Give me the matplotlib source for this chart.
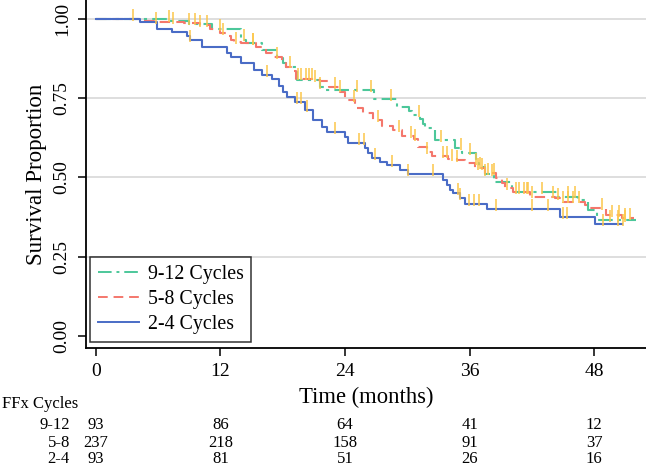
import numpy as np
import matplotlib
matplotlib.use("Agg")
import matplotlib.pyplot as plt
from matplotlib.transforms import blended_transform_factory

plt.rcParams['font.family'] = ['Liberation Serif', 'DejaVu Serif']

# ---- data: Kaplan-Meier step points (time in months, survival after step) ----
g912_t = [6.8, 9.0, 11.2, 14.0, 14.5, 16.0, 17.4, 18.0, 18.3, 19.4, 21.6, 22.0,
          26.8, 29.0, 30.2, 30.5, 31.2, 31.5, 31.7, 32.7, 34.6, 35.3, 36.6, 36.9,
          37.5, 38.4, 40.1, 44.4, 46.4, 47.4, 48.3]
g912_s = [0.995, 0.985, 0.967, 0.935, 0.925, 0.902, 0.877, 0.86, 0.85, 0.808,
          0.786, 0.776, 0.748, 0.723, 0.71, 0.697, 0.685, 0.67, 0.655, 0.618,
          0.594, 0.576, 0.545, 0.534, 0.51, 0.487, 0.453, 0.44, 0.429, 0.397, 0.366]
g912_end = 52.0
g912_cens = [3.6, 7.0, 12.0, 14.3, 15.1, 21.6, 23.5, 25.2, 26.5, 28.4, 31.1, 33.2,
             35.2, 36.0, 36.6, 37.0, 37.5, 38.2, 40.5, 41.5, 43.0, 45.5, 46.2,
             49.5, 50.3, 51.0]

g58_t = [4.2, 5.6, 8.5, 10.0, 11.0, 12.0, 12.5, 13.0, 13.3, 14.0, 15.4, 16.4, 17.0,
         17.9, 18.3, 18.8, 19.3, 21.0, 21.6, 22.5, 23.5, 24.0, 25.0, 25.7, 26.7,
         27.6, 28.6, 29.5, 30.6, 31.0, 31.9, 32.4, 33.9, 34.8, 35.6, 36.5, 37.5,
         38.5, 39.1, 39.4, 40.2, 41.8, 44.2, 45.0, 47.1, 47.4, 49.1, 50.7]
g58_s = [0.995, 0.99, 0.986, 0.981, 0.97, 0.955, 0.946, 0.935, 0.928, 0.923, 0.913,
         0.892, 0.881, 0.86, 0.85, 0.835, 0.812, 0.808, 0.803, 0.786, 0.77, 0.744,
         0.718, 0.702, 0.681, 0.662, 0.65, 0.631, 0.62, 0.597, 0.581, 0.568, 0.559,
         0.555, 0.545, 0.529, 0.513, 0.497, 0.482, 0.466, 0.455, 0.44, 0.435, 0.424,
         0.413, 0.403, 0.382, 0.371]
g58_end = 51.8
g58_cens = [5.8, 7.4, 9.0, 9.5, 10.0, 10.7, 12.2, 13.5, 15.1, 17.4, 18.7, 19.5, 19.8,
            20.2, 20.5, 20.8, 21.1, 23.0, 24.9, 27.2, 29.2, 30.4, 30.7, 31.9, 33.4,
            33.8, 34.3, 34.8, 36.8, 37.2, 37.8, 38.4, 39.6, 40.8, 41.2, 41.6, 42.0,
            44.0, 44.5, 45.0, 45.5, 46.0, 46.5, 48.8, 49.7, 50.4, 51.0, 51.5]

g24_t = [4.2, 5.9, 7.3, 8.8, 9.1, 10.2, 12.6, 13.0, 14.0, 15.2, 16.0, 17.0, 17.6,
         18.0, 18.4, 19.2, 20.1, 20.9, 21.8, 22.3, 24.0, 24.3, 25.9, 26.2, 26.6,
         27.4, 28.0, 29.3, 30.1, 33.4, 33.8, 34.1, 34.4, 35.1, 35.6, 37.7, 44.7, 48.1]
g24_s = [0.99, 0.967, 0.958, 0.945, 0.934, 0.913, 0.892, 0.879, 0.86, 0.839, 0.823,
         0.811, 0.79, 0.77, 0.754, 0.739, 0.713, 0.681, 0.66, 0.644, 0.629, 0.608,
         0.592, 0.577, 0.561, 0.55, 0.539, 0.524, 0.511, 0.492, 0.476, 0.46, 0.45,
         0.434, 0.416, 0.40, 0.376, 0.353]
g24_end = 50.7
g24_cens = [9.1, 16.5, 19.4, 19.8, 20.3, 23.0, 25.3, 25.8, 26.9, 28.5, 30.1, 32.5,
            34.9, 35.1, 35.9, 36.4, 36.9, 38.5, 42.0, 43.6, 45.0, 45.4, 48.9, 50.3, 50.8]

labels = ['9-12 Cycles', '5-8 Cycles', '2-4 Cycles']
risk_groups = ['9-12', '5-8', '2-4']
risk_times = [0, 12, 24, 36, 48]
risk_912 = [93, 86, 64, 41, 12]
risk_58 = [237, 218, 158, 91, 37]
risk_24 = [93, 81, 51, 26, 16]

x_ticks = [0, 12, 24, 36, 48]
y_ticks = [0.0, 0.25, 0.5, 0.75, 1.0]

# ---- styles ----
c_green = '#4cc79a'
c_red = '#f4776c'
c_blue = '#4a6cc6'
c_cens = '#fcc64a'

fig = plt.figure(figsize=(6.46, 4.71), dpi=100)
ax = fig.add_axes([86/646, 1-348/471, 560/646, 348/471])

for y in [0.25, 0.5, 0.75, 1.0]:
    ax.axhline(y, color='#d4d4d4', lw=1.1, zorder=0)


def curve(t, s, end):
    tt = np.concatenate([[0.0], t, [end]])
    ss = np.concatenate([[1.0], s, [s[-1]]])
    return tt, ss


def surv_at(t, s, times):
    t = np.asarray(t); s = np.asarray(s)
    out = []
    for x in times:
        idx = np.searchsorted(t, x, side='right') - 1
        out.append(1.0 if idx < 0 else s[idx])
    return np.array(out)


series = [
    (g912_t, g912_s, g912_end, g912_cens, c_green, (0, (7, 2.5, 1.5, 2.5))),
    (g58_t, g58_s, g58_end, g58_cens, c_red, (0, (5, 3))),
    (g24_t, g24_s, g24_end, g24_cens, c_blue, '-'),
]
for (t, s, end, cens, col, ls), lab in zip(series, labels):
    tt, ss = curve(t, s, end)
    ax.step(tt, ss, where='post', color=col, lw=1.5, ls=ls, zorder=3)
for (t, s, end, cens, col, ls) in series:
    cy = surv_at(t, s, cens)
    ax.plot(cens, cy + 0.013, ls='none', marker='|', ms=8, mew=1.1,
            color=c_cens, zorder=4)

# legend proxies
handles = []
for (t, s, end, cens, col, ls), lab in zip(series, labels):
    h, = ax.plot([], [], color=col, lw=1.4, ls=ls, label=lab)
    handles.append(h)

ax.set_xlim(-0.96, 53.0)
ax.set_ylim(-0.038, 1.06)
ax.set_xticks(x_ticks)
ax.set_xticklabels([str(v) for v in x_ticks])
ax.set_yticks(y_ticks)
ax.set_yticklabels(['%.2f' % v for v in y_ticks], rotation=90, va='center')
ax.tick_params(axis='both', direction='out', length=6, width=1.1, labelsize=14,
               pad=5)
for sp in ['top', 'right']:
    ax.spines[sp].set_visible(False)
for sp in ['left', 'bottom']:
    ax.spines[sp].set_linewidth(1.3)
ax.set_xlabel('Time (months)', fontsize=16.3, labelpad=5)
ax.set_ylabel('Survival Proportion', fontsize=16.5, labelpad=5)

leg = ax.legend(handles=handles, loc='lower left', bbox_to_anchor=(0.007, 0.017),
                borderaxespad=0, fontsize=14.3, frameon=True, fancybox=False,
                handlelength=2.05, handletextpad=0.45, labelspacing=0.3,
                borderpad=0.4)
leg.get_frame().set_edgecolor('black')
leg.get_frame().set_linewidth(1.1)

# ---- risk table ----
trans = blended_transform_factory(ax.transData, fig.transFigure)
fig.text(2/646, 1-404/471, 'FFx Cycles', fontsize=12, ha='left', va='center')
row_y = [1-425/471, 1-443/471, 1-459/471]
for gname, vals, yy in zip(risk_groups, [risk_912, risk_58, risk_24], row_y):
    fig.text(70/646, yy, gname, fontsize=12, ha='right', va='center')
    for tv, n in zip(risk_times, vals):
        ax.text(tv, yy, str(n), fontsize=12, ha='center', va='center',
                transform=trans, clip_on=False)

fig.savefig('out.png', dpi=100)
